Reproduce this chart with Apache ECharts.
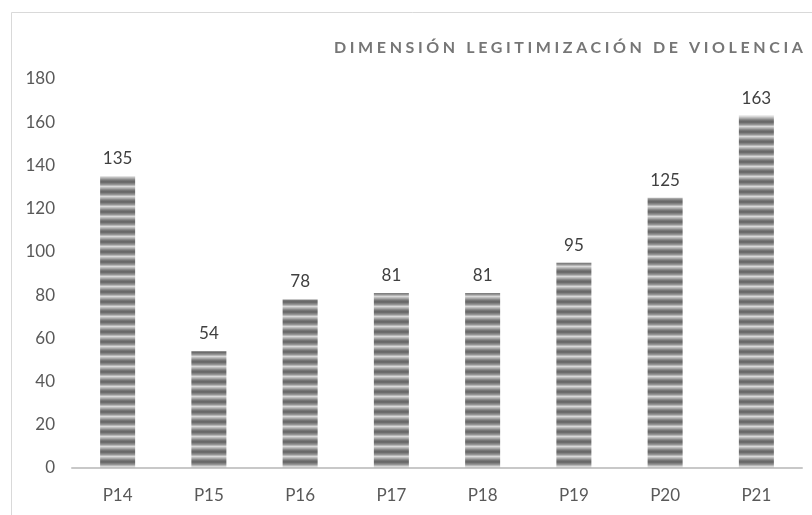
<!DOCTYPE html>
<html>
<head>
<meta charset="utf-8">
<script src="https://cdn.jsdelivr.net/npm/echarts@6/dist/echarts.min.js"></script>
<style>
html,body{margin:0;padding:0;background:#fff;}
#chart{width:812px;height:515px;}
</style>
</head>
<body>
<div id="chart"></div>
<script>
const titleText = 'DIMENSIÓN LEGITIMIZACIÓN DE VIOLENCIA';
const categories = ['P14','P15','P16','P17','P18','P19','P20','P21'];
const values = [135, 54, 78, 81, 81, 95, 125, 163];
const yMin = 0, yMax = 180, yStep = 20;

// letter spacing for the title only
(function(){
  const proto = CanvasRenderingContext2D.prototype;
  const orig = proto.fillText;
  proto.fillText = function(t, x, y, w){
    if (t === titleText && 'letterSpacing' in this) {
      const prev = this.letterSpacing;
      this.letterSpacing = '3.6px';
      const r = w === undefined ? orig.call(this, t, x, y) : orig.call(this, t, x, y, w);
      this.letterSpacing = prev;
      return r;
    }
    return w === undefined ? orig.call(this, t, x, y) : orig.call(this, t, x, y, w);
  };
})();

// striped bar fill
const pc = document.createElement('canvas');
pc.width = 4; pc.height = 10;
const g = pc.getContext('2d');
const grad = g.createLinearGradient(0,0,0,10);
grad.addColorStop(0, '#7c7c7c');
grad.addColorStop(0.2, '#626262');
grad.addColorStop(0.45, '#949494');
grad.addColorStop(0.65, '#d8d8d8');
grad.addColorStop(0.85, '#a6a6a6');
grad.addColorStop(1, '#7c7c7c');
g.fillStyle = grad; g.fillRect(0,0,4,10);

const chart = echarts.init(document.getElementById('chart'), null, {renderer:'canvas'});
chart.setOption({
  backgroundColor: '#fff',
  animation: false,
  graphic: [{
    type: 'rect', left: 9, top: 10, silent: true, z: -1,
    shape: {width: 900, height: 600},
    style: {fill: 'none', stroke: '#d9d9d9', lineWidth: 1}
  }],
  title: {
    text: titleText,
    left: 329, top: 35,
    textStyle: {fontFamily: 'Lato', fontSize: 16, fontWeight: 'bold', color: '#767676'}
  },
  grid: {left: 72, right: 10, top: 79, bottom: 47, containLabel: false},
  xAxis: {
    type: 'category', data: categories,
    axisLine: {lineStyle: {color: '#c8c8c8', width: 2}},
    axisTick: {show: false},
    axisLabel: {fontFamily: 'Lato', fontSize: 17, color: '#595959', margin: 19}
  },
  yAxis: {
    type: 'value', min: yMin, max: yMax, interval: yStep,
    axisLine: {show: false}, axisTick: {show: false},
    splitLine: {show: false},
    axisLabel: {fontFamily: 'Lato', fontSize: 17, color: '#595959', margin: 17}
  },
  series: [{
    type: 'bar', data: values, barWidth: 35,
    itemStyle: {color: {image: pc, repeat: 'repeat'}},
    label: {show: true, position: 'top', distance: 9, fontFamily: 'Lato', fontSize: 17, color: '#404040'}
  }]
});
</script>
</body>
</html>
